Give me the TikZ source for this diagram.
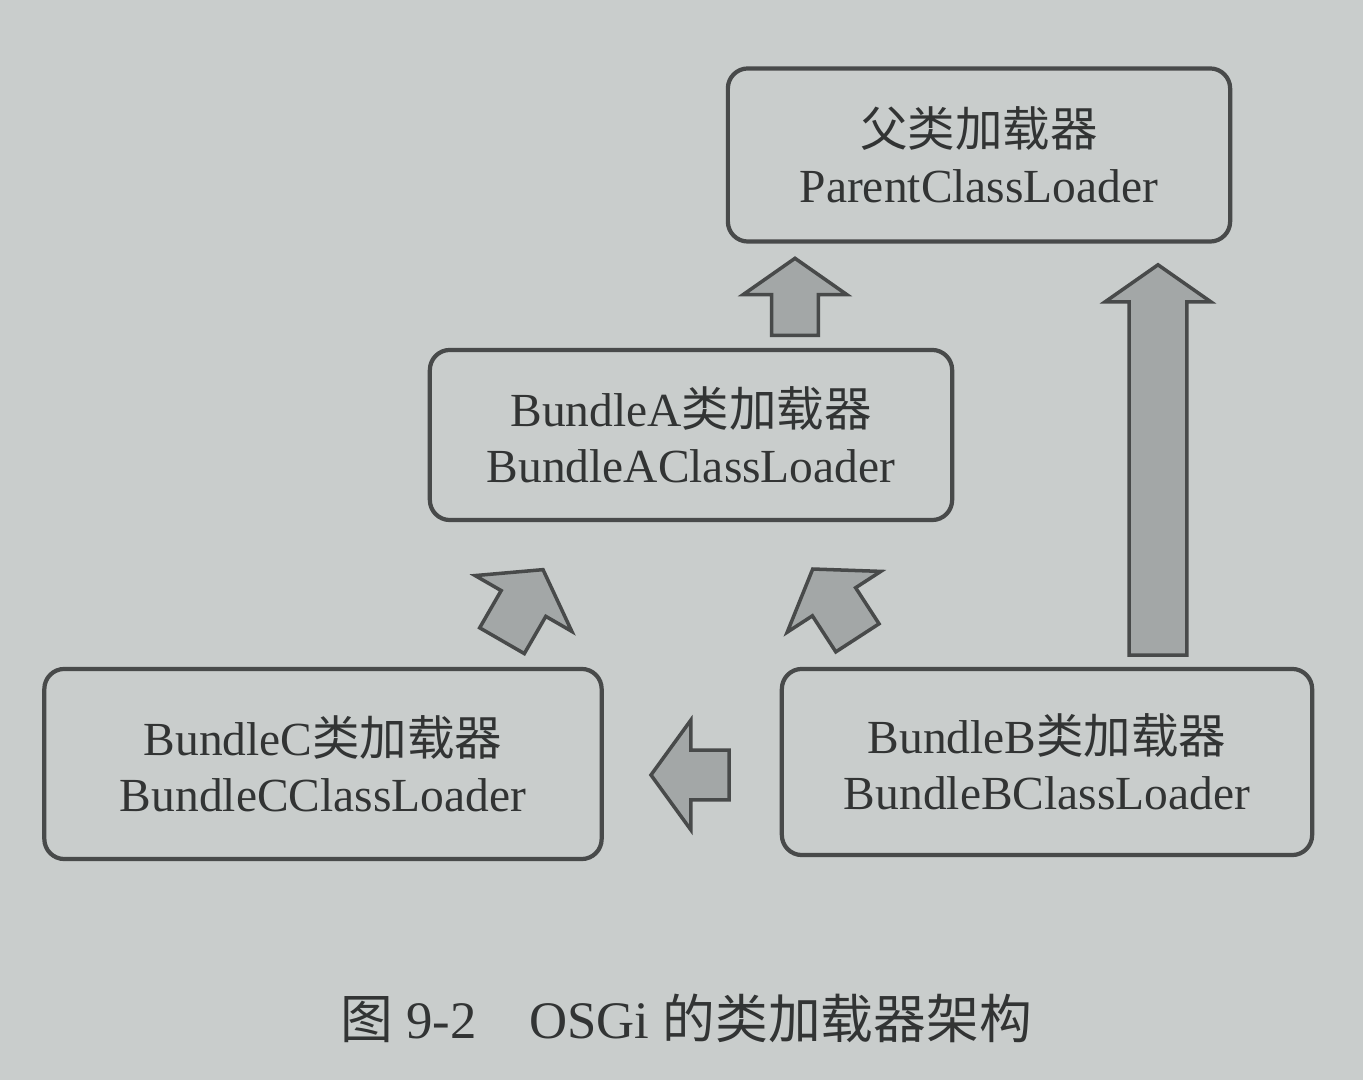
\documentclass[tikz,border=0pt]{standalone}
\usepackage{fontspec}
\setmainfont{Liberation Serif}
\newfontfamily\cjk{Noto Sans CJK SC}
\usetikzlibrary{shapes.arrows, positioning}
\definecolor{paper}{RGB}{201,205,204}
\definecolor{ink}  {RGB}{ 50, 52, 52}
\definecolor{edge} {RGB}{ 72, 74, 74}
\definecolor{afill}{RGB}{163,167,167}
\tikzset{
  % Loader box
  LB/.style={rectangle,rounded corners=0.2cm,draw=edge,fill=paper,
             minimum width=#1,minimum height=1.75cm,align=center,
             text=ink,font=\fontsize{13.5}{16}\selectfont,
             inner sep=0pt,line width=1.2pt},
  LB/.default=5.2cm,
  % Grey block arrow, #1 = half shaft width
  BA/.style={single arrow,draw=edge,fill=afill,line width=1pt,
             inner xsep=0pt,inner ysep=#1,
             single arrow head extend=0.30cm,
             single arrow tip angle=110,single arrow head indent=0pt},
  BA/.default=0.23cm,
}

\begin{document}
\begin{tikzpicture}[x=0.01cm,y=-0.01cm]
      \fill[paper] (0,0) rectangle (1363,1080);
      \useasboundingbox (0,0) rectangle (1363,1080);
      \node[LB=5.02cm,minimum height=1.73cm] (parent) at (979,155)
            {{\cjk 父类加载器}\\ParentClassLoader};
      \node[LB=5.22cm,minimum height=1.70cm] (bA) at (691,435)
            {Bundle{A}{\cjk 类加载器}\\BundleAClassLoader};
      \node[LB=5.57cm,minimum height=1.90cm] (bC) at (323,764)
            {BundleC{\cjk 类加载器}\\BundleCClassLoader};
      \node[LB=5.30cm,minimum height=1.86cm] (bB) at (1047,762)
            {BundleB{\cjk 类加载器}\\BundleBClassLoader};
      % block arrows
      \node[BA=0.215cm,rotate=90,minimum height=0.77cm,
            single arrow head extend=0.285cm] (upA) at (795,305) {};
      \node[BA=0.27cm,rotate=90,minimum height=3.90cm,
            single arrow head extend=0.24cm] (upB) at (1158,470) {};
      \node[BA=0.24cm,rotate=60,minimum height=0.82cm] (cA) at (518,613) {};
      \node[BA=0.24cm,rotate=123,minimum height=0.82cm] (bAa) at (840,611) {};
      \node[BA=0.23cm,rotate=180,minimum height=0.78cm,
            single arrow tip angle=108] (bCa) at (699,775) {};
      \node[text=ink,font=\fontsize{15}{18}\selectfont] (cap) at (686,1018)
            {{\cjk 图} 9-2\quad OSGi {\cjk 的类加载器架构}};
    \end{tikzpicture}
\end{document}
